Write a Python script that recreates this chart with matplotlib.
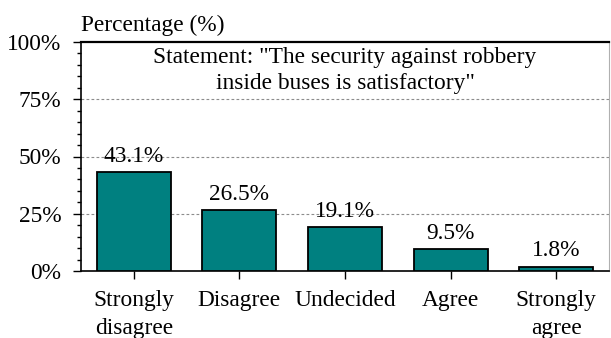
import numpy as np
import matplotlib
matplotlib.use("Agg")
import matplotlib.pyplot as plt
from matplotlib.ticker import MultipleLocator, FuncFormatter

categories = ["Strongly\ndisagree", "Disagree", "Undecided", "Agree", "Strongly\nagree"]
shares = [43.1, 26.5, 19.1, 9.5, 1.8]
value_labels = ["43.1%", "26.5%", "19.1%", "9.5%", "1.8%"]
statement = 'Statement: "The security against robbery\ninside buses is satisfactory"'

plt.rcParams["font.family"] = ["Liberation Serif", "DejaVu Serif"]
plt.rcParams["font.size"] = 16.8

fig = plt.figure(figsize=(6.11, 3.38), dpi=100)
ax = fig.add_axes([81 / 611, 67 / 338, 528 / 611, 229 / 338])

x = np.arange(len(categories))
ax.bar(x, shares, width=0.70, color="#008080", edgecolor="black", linewidth=1.3, zorder=3)

for xi, val, lab in zip(x, shares, value_labels):
    ax.annotate(lab, (xi, val), xytext=(0, 7.5), textcoords="offset points",
                ha="center", va="baseline")

ax.set_xlim(-0.5, 4.5)
ax.set_ylim(0, 100)
ax.set_xticks(x)
ax.set_xticklabels(categories, linespacing=1.4)
ax.yaxis.set_major_locator(MultipleLocator(25))
ax.yaxis.set_minor_locator(MultipleLocator(5))
ax.yaxis.set_major_formatter(FuncFormatter(lambda v, _: f"{v:.0f}%"))

ax.tick_params(axis="y", which="major", length=6, width=1, pad=8)
ax.tick_params(axis="y", which="minor", length=3, width=1)
ax.tick_params(axis="x", which="major", length=6, width=1, pad=8)

# dashed guide lines at the quartiles
for g in (25, 50, 75):
    ax.axhline(g, color="#8c8c8c", linestyle=(0, (2.5, 2)), linewidth=0.8, zorder=1)

for side in ("left", "bottom"):
    ax.spines[side].set_linewidth(1.2)
ax.spines["top"].set_linewidth(1.6)
ax.spines["right"].set_color("#b0b0b0")
ax.spines["right"].set_linewidth(0.8)

ax.text(2.0, 98.0, statement, ha="center", va="top", linespacing=1.35, zorder=4)
fig.text(81 / 611, 1 - 31 / 338, "Percentage (%)", ha="left", va="baseline")

fig.savefig("out.png", dpi=100)
